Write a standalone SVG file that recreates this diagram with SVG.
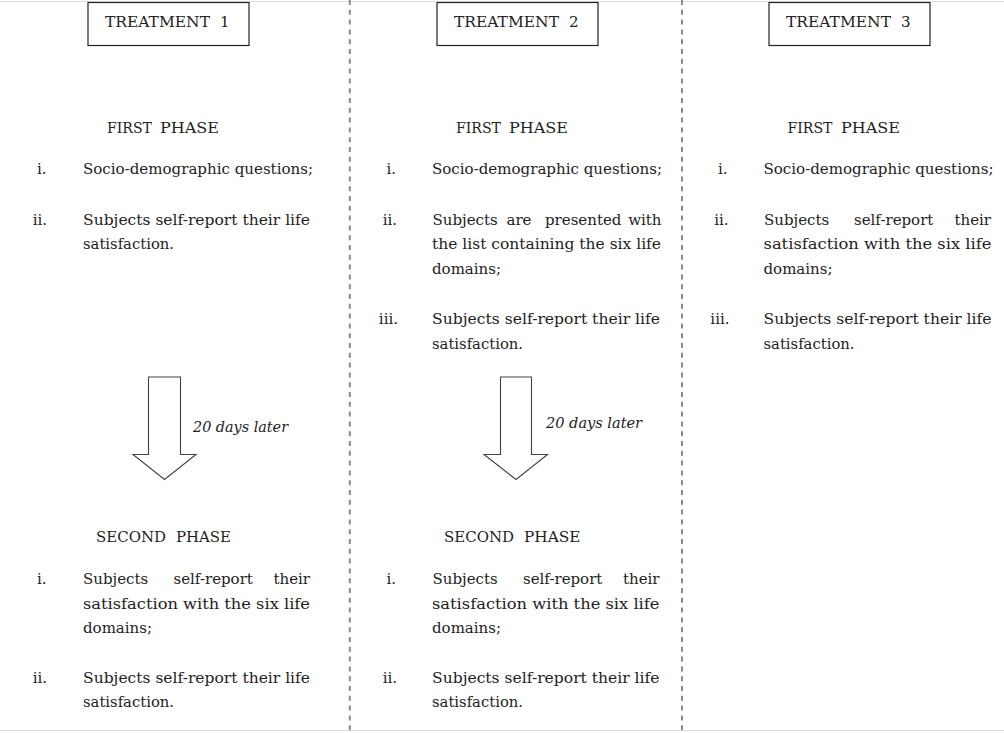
<svg xmlns="http://www.w3.org/2000/svg" width="1004" height="733" viewBox="0 0 1004 733">
<style>
.t{font-family:"DejaVu Serif","Liberation Serif",serif;font-size:15px;fill:#222;}
.it{font-family:"DejaVu Serif","Liberation Serif",serif;font-size:15px;font-style:italic;fill:#222;}
.n{text-anchor:end;}
.e{text-anchor:end;}
.box{fill:#fff;stroke:#222;stroke-width:1.2;}
.div{stroke:#8a8a8a;stroke-width:2;stroke-dasharray:5 4.8;fill:none;}
.rule{stroke:#dcdcdc;stroke-width:1;fill:none;}
.arrow{fill:#fff;stroke:#444;stroke-width:1.1;stroke-linejoin:miter;}
</style>
<rect x="0" y="0" width="1004" height="733" fill="#fff"/>
<line class="rule" x1="0" y1="1.5" x2="1004" y2="1.5"/>
<line class="rule" x1="0" y1="730.5" x2="1004" y2="730.5"/>
<line class="div" x1="349.8" y1="0" x2="349.8" y2="733"/>
<line class="div" x1="682" y1="0" x2="682" y2="733"/>

<g id="treatment1">
<rect class="box" x="88" y="2.5" width="161" height="43"/>
<text class="t" x="105" y="27" textLength="105" lengthAdjust="spacingAndGlyphs">TREATMENT</text>
<text class="t" x="220" y="27" textLength="8">1</text>
</g>
<g id="treatment2">
<rect class="box" x="437" y="2.5" width="161" height="43"/>
<text class="t" x="454" y="27" textLength="105" lengthAdjust="spacingAndGlyphs">TREATMENT</text>
<text class="t" x="569" y="27" textLength="9">2</text>
</g>
<g id="treatment3">
<rect class="box" x="769" y="2.5" width="161" height="43"/>
<text class="t" x="786" y="27" textLength="105" lengthAdjust="spacingAndGlyphs">TREATMENT</text>
<text class="t" x="901" y="27" textLength="9">3</text>
</g>

<g id="t1-first-phase">
<text class="t" x="107" y="133" textLength="45" lengthAdjust="spacingAndGlyphs">FIRST</text>
<text class="t" x="160" y="133" textLength="59" lengthAdjust="spacingAndGlyphs">PHASE</text>
<text class="t n" x="46.5" y="174">i.</text>
<text class="t" x="83" y="174" textLength="230" lengthAdjust="spacingAndGlyphs">Socio-demographic questions;</text>
<text class="t n" x="47" y="224.5">ii.</text>
<text class="t" x="83" y="224.5" textLength="227" lengthAdjust="spacingAndGlyphs">Subjects self-report their life</text>
<text class="t" x="83" y="249" textLength="91" lengthAdjust="spacingAndGlyphs">satisfaction.</text>
</g>

<g id="t2-first-phase">
<text class="t" x="456" y="133" textLength="45" lengthAdjust="spacingAndGlyphs">FIRST</text>
<text class="t" x="509" y="133" textLength="59" lengthAdjust="spacingAndGlyphs">PHASE</text>
<text class="t n" x="396" y="174">i.</text>
<text class="t" x="432" y="174" textLength="230" lengthAdjust="spacingAndGlyphs">Socio-demographic questions;</text>
<text class="t n" x="397" y="224.5">ii.</text>
<text class="t" x="432.5" y="224.5">Subjects</text>
<text class="t" x="506.5" y="224.5">are</text>
<text class="t" x="545" y="224.5">presented</text>
<text class="t e" x="661.5" y="224.5">with</text>
<text class="t" x="432" y="249" textLength="229" lengthAdjust="spacingAndGlyphs">the list containing the six life</text>
<text class="t" x="432" y="274" textLength="69" lengthAdjust="spacingAndGlyphs">domains;</text>
<text class="t n" x="398" y="323.5">iii.</text>
<text class="t" x="432" y="323.5" textLength="228" lengthAdjust="spacingAndGlyphs">Subjects self-report their life</text>
<text class="t" x="432" y="348.5" textLength="91" lengthAdjust="spacingAndGlyphs">satisfaction.</text>
</g>

<g id="t3-first-phase">
<text class="t" x="787.5" y="132.5" textLength="45" lengthAdjust="spacingAndGlyphs">FIRST</text>
<text class="t" x="841" y="132.5" textLength="59" lengthAdjust="spacingAndGlyphs">PHASE</text>
<text class="t n" x="727.5" y="174">i.</text>
<text class="t" x="763.5" y="174" textLength="230" lengthAdjust="spacingAndGlyphs">Socio-demographic questions;</text>
<text class="t n" x="728.5" y="224.5">ii.</text>
<text class="t" x="764" y="224.5">Subjects</text>
<text class="t" x="854" y="224.5">self-report</text>
<text class="t e" x="991" y="224.5">their</text>
<text class="t" x="763.5" y="249" textLength="228" lengthAdjust="spacingAndGlyphs">satisfaction with the six life</text>
<text class="t" x="763.5" y="274" textLength="69" lengthAdjust="spacingAndGlyphs">domains;</text>
<text class="t n" x="729.5" y="323.5">iii.</text>
<text class="t" x="763.5" y="323.5" textLength="228" lengthAdjust="spacingAndGlyphs">Subjects self-report their life</text>
<text class="t" x="763.5" y="348.5" textLength="91" lengthAdjust="spacingAndGlyphs">satisfaction.</text>
</g>

<g id="connectors">
<path class="arrow" d="M148.5,377 H180.5 V454.5 H196 L164.5,479.5 L133,454.5 H148.5 Z"/>
<text class="it" x="193" y="431.5" textLength="95" lengthAdjust="spacingAndGlyphs">20 days later</text>
<path class="arrow" d="M500.5,377 H531.5 V454.5 H547.5 L516,479.5 L484,454.5 H500.5 Z"/>
<text class="it" x="546" y="427.5" textLength="96" lengthAdjust="spacingAndGlyphs">20 days later</text>
</g>

<g id="t1-second-phase">
<text class="t" x="96" y="541.5" textLength="70" lengthAdjust="spacingAndGlyphs">SECOND</text>
<text class="t" x="176" y="541.5" textLength="55" lengthAdjust="spacingAndGlyphs">PHASE</text>
<text class="t n" x="46.5" y="584">i.</text>
<text class="t" x="83" y="584">Subjects</text>
<text class="t" x="173.5" y="584">self-report</text>
<text class="t e" x="310" y="584">their</text>
<text class="t" x="83" y="608.5" textLength="227" lengthAdjust="spacingAndGlyphs">satisfaction with the six life</text>
<text class="t" x="83" y="633" textLength="69" lengthAdjust="spacingAndGlyphs">domains;</text>
<text class="t n" x="47" y="682.5">ii.</text>
<text class="t" x="83" y="682.5" textLength="227" lengthAdjust="spacingAndGlyphs">Subjects self-report their life</text>
<text class="t" x="83" y="707" textLength="91" lengthAdjust="spacingAndGlyphs">satisfaction.</text>
</g>

<g id="t2-second-phase">
<text class="t" x="444" y="541.5" textLength="70" lengthAdjust="spacingAndGlyphs">SECOND</text>
<text class="t" x="524" y="541.5" textLength="56.5" lengthAdjust="spacingAndGlyphs">PHASE</text>
<text class="t n" x="396" y="584">i.</text>
<text class="t" x="432.5" y="584">Subjects</text>
<text class="t" x="523" y="584">self-report</text>
<text class="t e" x="659.5" y="584">their</text>
<text class="t" x="432" y="608.5" textLength="227.5" lengthAdjust="spacingAndGlyphs">satisfaction with the six life</text>
<text class="t" x="432" y="633" textLength="69" lengthAdjust="spacingAndGlyphs">domains;</text>
<text class="t n" x="397" y="682.5">ii.</text>
<text class="t" x="432" y="682.5" textLength="227.5" lengthAdjust="spacingAndGlyphs">Subjects self-report their life</text>
<text class="t" x="432" y="707" textLength="91" lengthAdjust="spacingAndGlyphs">satisfaction.</text>
</g>
</svg>
